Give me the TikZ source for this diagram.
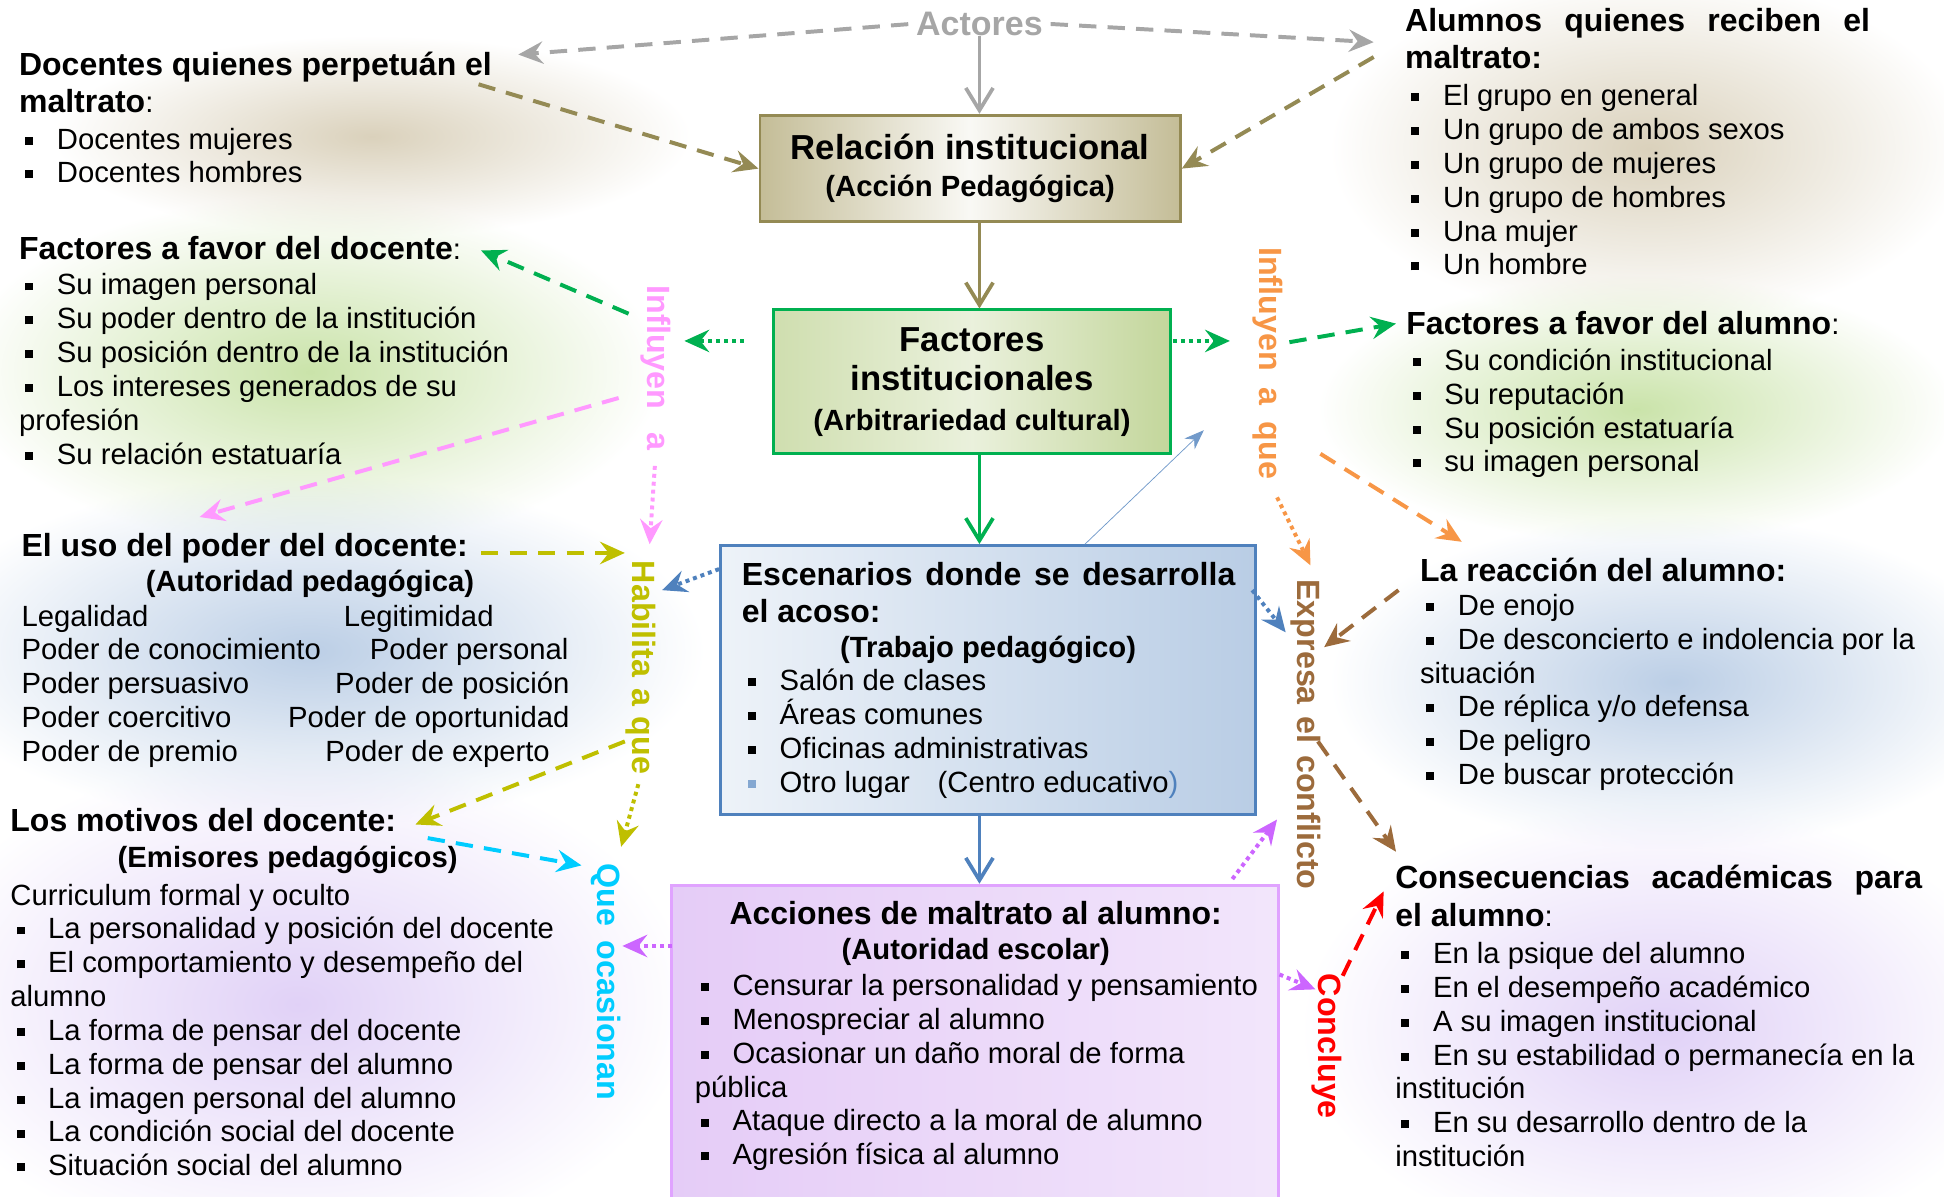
\documentclass[tikz,border=0pt]{standalone}
\usepackage{fontspec}
\setmainfont{Liberation Sans}
\usetikzlibrary{arrows.meta,fadings}

\definecolor{grisact}{HTML}{A6A6A6}
\definecolor{olivo}{HTML}{948A54}
\definecolor{caqui}{HTML}{C4BD97}
\definecolor{verde}{HTML}{00B050}
\definecolor{verdeclaro}{HTML}{C3D69B}
\definecolor{azul}{HTML}{4F81BD}
\definecolor{azulclaro}{HTML}{B9CDE5}
\definecolor{violeta}{HTML}{CC66FF}
\definecolor{lila}{HTML}{E5CCF7}
\definecolor{rosa}{HTML}{FF99FF}
\definecolor{amarillo}{HTML}{BFBF00}
\definecolor{celeste}{HTML}{00CCFF}
\definecolor{naranja}{HTML}{F79646}
\definecolor{cafe}{HTML}{9C6B3C}
\definecolor{rojo}{HTML}{FF0000}
\definecolor{bgtan}{HTML}{D6CCB4}
\definecolor{bgverde}{HTML}{C4E0A0}
\definecolor{bgazul}{HTML}{B4C9E3}
\definecolor{bglila}{HTML}{DDCCF6}

\newcommand\txtfont{\fontsize{11.8}{13.65}\selectfont}
\newcommand\hd[1]{{\fontsize{12.9}{13.65}\selectfont\bfseries #1}}
\newcommand\subhd{\fontsize{11.8}{13.65}\selectfont\bfseries}
\newcommand\bul{\makebox[15.25pt][l]{\hspace{2.5pt}\rule[1.8pt]{3.2pt}{3.2pt}}}
\newcommand\vlab[2]{\makebox[#1][s]{#2}}
\newcommand\jhd[2]{\makebox[#1][s]{\spaceskip=0pt\relax\hd{#2}}}

\tikzfading[name=glow, inner color=transparent!10, outer color=transparent!100]

\begin{document}
\begin{tikzpicture}[x=0.5pt,y=-0.5pt,
  txt/.style={inner sep=0pt,anchor=base west,align=flush left,text width=260pt,font=\txtfont},
  subt/.style={inner sep=0pt,anchor=base,font=\subhd},
  vtxt/.style={inner sep=0pt,anchor=west,rotate=-90,text=#1,
    font=\fontsize{13}{15}\selectfont\bfseries},
  caja/.style={draw=#1,line width=1.2pt,inner sep=0pt},
  flecha/.style={draw=#1,line width=1.6pt,-{Stealth[length=10pt,width=9pt,inset=3.5pt]}},
  recta/.style={draw=#1,line width=1.5pt,-{Straight Barb[length=9pt,width=11pt]}},
  guion/.style={dash pattern=on 7pt off 4.5pt},
  punto/.style={dash pattern=on 1.6pt off 1.6pt},
  brillo/.style={fill=#1,path fading=glow}]

  \useasboundingbox (0,0) rectangle (1568,965);

  % fondos difusos
  \foreach \cx/\cy/\hx/\hy/\col in {300/110/190/60/bgtan, 250/300/210/105/bgverde,
      250/525/235/105/bgazul, 240/810/235/150/bglila, 1330/120/190/105/bgtan,
      1320/330/190/80/bgverde, 1350/550/205/100/bgazul, 1340/830/215/135/bglila}
    \fill[brillo=\col] ({\cx-1.35*\hx},{\cy-1.35*\hy}) rectangle ({\cx+1.35*\hx},{\cy+1.35*\hy});

  % cajas centrales
  \node[caja=olivo,left color=caqui,right color=caqui,middle color=white!90!caqui,
    minimum width=169.5pt,minimum height=43pt,align=center,
    font=\fontsize{14}{15}\selectfont\bfseries] (rel) at (782.5,136)
    {Relación institucional\\{\subhd (Acción Pedagógica)}};
  \node[caja=verde,left color=verdeclaro!80,right color=verdeclaro,middle color=white!65!verdeclaro,
    minimum width=160pt,minimum height=58pt,align=center,
    font=\fontsize{14}{16}\selectfont\bfseries] (fac) at (784,308)
    {Factores\\institucionales\\{\subhd (Arbitrariedad cultural)}};
  \node[caja=azul,left color=white!75!azulclaro,right color=azulclaro,
    minimum width=216pt,minimum height=108.5pt] (esc) at (797,548.5) {};
  \node[caja=violeta!60,left color=lila,right color=white!50!lila,
    minimum width=244.5pt,minimum height=130.5pt] (acc) at (786.5,844.5) {};

  \node[inner sep=0pt,text=grisact,font=\fontsize{13.7}{15}\selectfont\bfseries] (act) at (790,19) {Actores};

  % textos de la caja azul
  \node[txt] (esct) at (598,472) {\jhd{199pt}{Escenarios donde se desarrolla}\\[1.4pt]
    \hd{el acoso:}};
  \node[subt] (escs) at (797,530) {(Trabajo pedagógico)};
  \node[txt] (escl) at (598,557) {\bul Salón de clases\\ \bul Áreas comunes\\
    \bul Oficinas administrativas\\
    {\color{azul!70}\bul}Otro lugar\hspace{8pt} (Centro educativo\textcolor{azul}{)}};

  % textos de la caja lila
  \node[inner sep=0pt,anchor=base,font=\fontsize{12.9}{15}\selectfont\bfseries] (acct) at (787,746)
    {Acciones de maltrato al alumno:};
  \node[subt] (accs) at (787,774) {(Autoridad escolar)};
  \node[txt] (accl) at (560,803) {\bul Censurar la personalidad y pensamiento\\
    \bul Menospreciar al alumno\\ \bul Ocasionar un daño moral de forma\\ pública\\
    \bul Ataque directo a la moral de alumno\\ \bul Agresión física al alumno};

  % lado izquierdo
  \node[txt] (doc) at (15,61) {\hd{Docentes quienes perpetuán el}\\[1.4pt] \hd{maltrato}:\\[0.9pt]
    \bul Docentes mujeres\\ \bul Docentes hombres};
  \node[txt] (fdo) at (15,209) {\hd{Factores a favor del docente}:\\[0.8pt]
    \bul Su imagen personal\\ \bul Su poder dentro de la institución\\
    \bul Su posición dentro de la institución\\ \bul Los intereses generados de su\\
    profesión\\ \bul Su relación estatuaría};
  \node[txt] (uso) at (17,449) {\hd{El uso del poder del docente:}};
  \node[subt] (usos) at (250,477) {(Autoridad pedagógica)};
  \foreach \l/\r/\xr [count=\k] in {Legalidad/Legitimidad/277,
      Poder de conocimiento/Poder personal/298, Poder persuasivo/Poder de posición/270,
      Poder coercitivo/Poder de oportunidad/232, Poder de premio/Poder de experto/262} {
    \node[txt] (pl\k) at (17,{505+27.25*(\k-1)}) {\l};
    \node[txt] (pr\k) at (\xr,{505+27.25*(\k-1)}) {\r};
  }
  \node[txt] (mot) at (8,671) {\hd{Los motivos del docente:}};
  \node[subt] (mots) at (232,700) {(Emisores pedagógicos)};
  \node[txt] (motl) at (8,730) {Curriculum formal y oculto\\
    \bul La personalidad y posición del docente\\ \bul El comportamiento y desempeño del\\
    alumno\\ \bul La forma de pensar del docente\\ \bul La forma de pensar del alumno\\
    \bul La imagen personal del alumno\\ \bul La condición social del docente\\
    \bul Situación social del alumno};

  % lado derecho
  \node[txt] (alu) at (1133,25) {\jhd{187.5pt}{Alumnos quienes reciben el}\\[1.4pt]
    \hd{maltrato:}\\[1.4pt] \bul El grupo en general\\ \bul Un grupo de ambos sexos\\
    \bul Un grupo de mujeres\\ \bul Un grupo de hombres\\ \bul Una mujer\\ \bul Un hombre};
  \node[txt] (fal) at (1134,270) {\hd{Factores a favor del alumno}:\\[0.7pt]
    \bul Su condición institucional\\ \bul Su reputación\\ \bul Su posición estatuaría\\
    \bul su imagen personal};
  \node[txt] (rea) at (1145,469) {\hd{La reacción del alumno:}\\
    \bul De enojo\\ \bul De desconcierto e indolencia por la\\ situación\\
    \bul De réplica y/o defensa\\ \bul De peligro\\ \bul De buscar protección};
  \node[txt] (con) at (1125,717) {\jhd{212.5pt}{Consecuencias académicas para}\\[1.4pt]
    \hd{el alumno}:\\[1.4pt] \bul En la psique del alumno\\ \bul En el desempeño académico\\
    \bul A su imagen institucional\\ \bul En su estabilidad o permanecía en la\\ institución\\
    \bul En su desarrollo dentro de la\\ institución};

  % rotulos verticales
  \node[vtxt=rosa] (infa) at (529,230) {\vlab{66.5pt}{Influyen a}};
  \node[vtxt=amarillo] (hab) at (517,452) {\vlab{86pt}{Habilita a que}};
  \node[vtxt=celeste] (qoc) at (489,696) {\vlab{95.5pt}{Que ocasionan}};
  \node[vtxt=naranja] (infq) at (1023,199) {\vlab{93.5pt}{Influyen a que}};
  \node[vtxt=cafe] (expc) at (1053,467) {\vlab{125pt}{Expresa el conflicto}};
  \node[vtxt=rojo] (conc) at (1070,785) {Concluye};

  % puntos sueltos de los conectores
  \coordinate (gIzq) at (418,44);
  \coordinate (gDer) at (1108,34);
  \coordinate (oIzq) at (386,68);
  \coordinate (oDer) at (1108,46);
  \coordinate (vp1) at (600,275);   \coordinate (vp2) at (552,275);
  \coordinate (vp3) at (946,275);   \coordinate (vp4) at (992,275);
  \coordinate (vd1) at (507,253);   \coordinate (vd2) at (388,202);
  \coordinate (vd3) at (1040,276);  \coordinate (vd4) at (1126,261);
  \coordinate (rp1) at (524,439);
  \coordinate (rd1) at (499,321);   \coordinate (rd2) at (161,417);
  \coordinate (yd1) at (388,446);   \coordinate (yd2) at (504,446);
  \coordinate (yd3) at (504,598);   \coordinate (yd4) at (335,665);
  \coordinate (yp1) at (501,683);
  \coordinate (cd1) at (345,676);   \coordinate (cd2) at (469,698);
  \coordinate (bp1) at (580,459);   \coordinate (bp2) at (534,476);
  \coordinate (bp3) at (1010,476);  \coordinate (bp4) at (1037,510);
  \coordinate (bl1) at (875,439);   \coordinate (bl2) at (971,347);
  \coordinate (mp1) at (542,763);   \coordinate (mp2) at (502,763);
  \coordinate (mp3) at (994,709);   \coordinate (mp4) at (1030,661);
  \coordinate (mp5) at (1032,786);  \coordinate (mp6) at (1061,798);
  \coordinate (nd1) at (1065,366);  \coordinate (nd2) at (1179,437);
  \coordinate (np2) at (1057,456);
  \coordinate (kd1) at (1128,476);  \coordinate (kd2) at (1068,522);
  \coordinate (kd3) at (1063,598);  \coordinate (kd4) at (1126,687);
  \coordinate (rj1) at (1083,787);  \coordinate (rj2) at (1116,719);

  % conectores
  \draw[flecha=grisact,guion,shorten <=3pt] (act.west) -- (gIzq);
  \draw[flecha=grisact,guion,shorten <=3pt] (act.east) -- (gDer);
  \draw[recta=grisact] (act.south) -- (act.south |- rel.north);
  \draw[flecha=olivo,guion] (oIzq) -- (rel.west);
  \draw[flecha=olivo,guion] (oDer) -- (rel.east);
  \draw[recta=olivo] (act.south |- rel.south) -- (act.south |- fac.north);
  \draw[flecha=verde,punto] (vp1) -- (vp2);
  \draw[flecha=verde,punto] (vp3) -- (vp4);
  \draw[flecha=verde,guion] (vd1) -- (vd2);
  \draw[flecha=verde,guion] (vd3) -- (vd4);
  \draw[recta=verde] (act.south |- fac.south) -- (act.south |- esc.north);
  \draw[flecha=rosa,punto,shorten <=6pt] (infa.east) -- (rp1);
  \draw[flecha=rosa,guion] (rd1) -- (rd2);
  \draw[flecha=amarillo,guion] (yd1) -- (yd2);
  \draw[flecha=amarillo,guion] (yd3) -- (yd4);
  \draw[flecha=amarillo,punto,shorten <=4pt] (hab.east) -- (yp1);
  \draw[flecha=celeste,guion] (cd1) -- (cd2);
  \draw[recta=azul] (act.south |- esc.south) -- (act.south |- acc.north);
  \draw[flecha=azul,punto] (bp1) -- (bp2);
  \draw[flecha=azul,punto] (bp3) -- (bp4);
  \draw[azul!80,line width=0.3pt,-{Stealth[length=8pt,width=6pt]}] (bl1) -- (bl2);
  \draw[flecha=violeta,punto] (mp1) -- (mp2);
  \draw[flecha=violeta,punto] (mp3) -- (mp4);
  \draw[flecha=violeta,punto] (mp5) -- (mp6);
  \draw[flecha=naranja,guion] (nd1) -- (nd2);
  \draw[flecha=naranja,punto,shorten <=8pt] (infq.east) -- (np2);
  \draw[flecha=cafe,guion] (kd1) -- (kd2);
  \draw[flecha=cafe,guion] (kd3) -- (kd4);
  \draw[flecha=rojo,guion] (rj1) -- (rj2);
\end{tikzpicture}
\end{document}
